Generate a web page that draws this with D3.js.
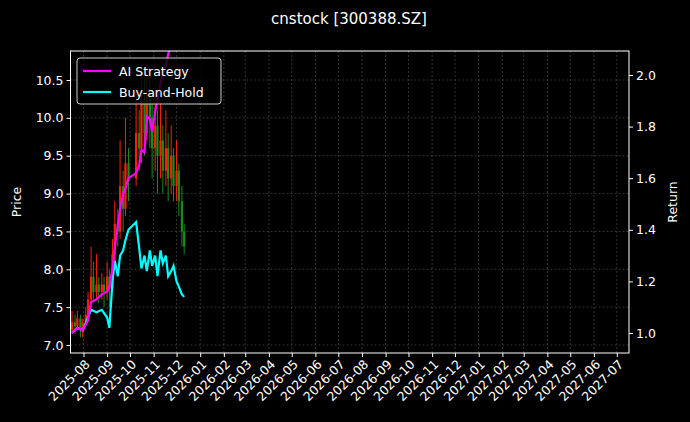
<!DOCTYPE html><html><head><meta charset="utf-8">
<script src="https://cdn.jsdelivr.net/npm/d3@7"></script>
<style>body{margin:0;background:#000}text{font-family:"DejaVu Sans",sans-serif}</style></head><body>
<svg id="c" width="690" height="422"></svg>
<script>
const title="cnstock [300388.SZ]";
const candleDates=["2025-07-17","2025-07-21","2025-07-24","2025-07-28","2025-07-31","2025-08-04","2025-08-07","2025-08-11","2025-08-14","2025-08-18","2025-08-21","2025-08-25","2025-08-28","2025-09-01","2025-09-04","2025-09-08","2025-09-11","2025-09-15","2025-09-18","2025-09-22","2025-09-25","2025-09-29","2025-10-09","2025-10-13","2025-10-16","2025-10-20","2025-10-23","2025-10-27","2025-10-30","2025-11-03","2025-11-06","2025-11-10","2025-11-13","2025-11-17","2025-11-20","2025-11-24","2025-11-27","2025-12-01","2025-12-04","2025-12-08","2025-12-11"];
const open=[7.2,7.3,7.25,7.35,7.2,7.3,7.4,7.6,7.9,7.7,7.8,7.7,7.8,7.7,7.9,7.75,8.2,8.6,8.5,9.1,8.8,9.4,9.2,9.8,9.6,10.2,9.8,10.3,10.0,9.6,9.9,9.5,9.7,9.3,9.6,9.2,9.5,9.1,9.3,8.9,8.5];
const close=[7.3,7.25,7.35,7.2,7.3,7.4,7.6,7.9,7.7,7.8,7.7,7.8,7.7,7.9,7.75,8.2,8.6,8.5,9.1,8.8,9.4,9.2,9.8,9.6,10.2,9.8,10.3,10.0,9.6,9.9,9.5,9.7,9.3,9.6,9.2,9.5,9.1,9.3,8.9,8.5,8.3];
const high=[7.45,7.4,7.45,7.4,7.35,7.5,7.7,8.3,8.1,8.2,7.9,7.95,7.9,8.1,8.0,8.4,8.9,8.8,9.7,9.3,10.0,9.6,10.4,10.1,10.7,10.6,10.7,10.6,10.2,10.4,10.1,10.2,9.9,10.1,9.8,9.9,9.6,9.7,9.4,9.1,8.6];
const low=[7.15,7.15,7.2,7.1,7.1,7.25,7.35,7.5,7.6,7.6,7.55,7.6,7.5,7.6,7.5,7.7,8.1,8.3,8.4,8.5,8.7,8.9,9.1,9.3,9.4,9.5,9.7,9.6,9.2,9.3,9.0,9.2,9.0,9.1,8.9,9.0,8.9,8.9,8.7,8.3,8.2];
const retDates=["2025-07-17","2025-07-24","2025-07-31","2025-08-07","2025-08-11","2025-08-18","2025-08-25","2025-09-01","2025-09-04","2025-09-08","2025-09-11","2025-09-15","2025-09-18","2025-09-22","2025-09-25","2025-09-29","2025-10-09","2025-10-13","2025-10-16","2025-10-20","2025-10-23","2025-10-27","2025-10-30","2025-11-03","2025-11-06","2025-11-10","2025-11-13","2025-11-17","2025-11-20","2025-11-24","2025-11-27","2025-12-01","2025-12-04","2025-12-08","2025-12-11"];
const aiStrategy=[1.0,1.02,1.01,1.05,1.12,1.13,1.15,1.16,1.18,1.25,1.33,1.42,1.48,1.54,1.56,1.6,1.62,1.65,1.71,1.70,1.84,1.83,1.78,1.86,1.9,1.97,2.0,2.04,2.08,2.12,2.14,2.15,2.16,2.17,2.18];
const buyHold=[1.0,1.02,1.01,1.06,1.09,1.08,1.09,1.06,1.02,1.2,1.28,1.22,1.3,1.32,1.36,1.4,1.43,1.33,1.25,1.3,1.24,1.32,1.26,1.3,1.22,1.32,1.27,1.30,1.22,1.24,1.26,1.2,1.18,1.15,1.14];
const priceTicks=[7.0,7.5,8.0,8.5,9.0,9.5,10.0,10.5];
const retTicks=[1.0,1.2,1.4,1.6,1.8,2.0];

const svg=d3.select("#c"),L=70.5,R=629,T=51,B=353,p=d3.timeParse("%Y-%m-%d");
const x=d3.scaleTime().domain([p("2025-07-15"),p("2027-07-17")]).range([L,R]);
const y=d3.scaleLinear().domain([7.0,10.5]).range([345,80]);
const y2=d3.scaleLinear().domain([1.0,2.0]).range([333,75]);
svg.append("rect").attr("width",690).attr("height",422).attr("fill","#000");
svg.append("defs").append("clipPath").attr("id","cp").append("rect").attr("x",L).attr("y",T).attr("width",R-L).attr("height",B-T);
const months=d3.timeMonth.range(p("2025-08-01"),p("2027-07-02"));
const g=svg.append("g").attr("stroke","#555").attr("stroke-dasharray","2,2").attr("stroke-width",0.6);
months.forEach(m=>g.append("line").attr("x1",x(m)).attr("x2",x(m)).attr("y1",T).attr("y2",B));
priceTicks.forEach(v=>g.append("line").attr("x1",L).attr("x2",R).attr("y1",y(v)).attr("y2",y(v)));
const pl=svg.append("g").attr("clip-path","url(#cp)");
candleDates.forEach((d,i)=>{const c=close[i]>=open[i]?"#ff2000":"#1a8c1a";
 pl.append("line").attr("x1",x(p(d))).attr("x2",x(p(d))).attr("y1",y(high[i])).attr("y2",y(low[i])).attr("stroke",c).attr("stroke-width",1);
 pl.append("line").attr("x1",x(p(d))).attr("x2",x(p(d))).attr("y1",y(Math.max(open[i],close[i]))).attr("y2",y(Math.min(open[i],close[i]))).attr("stroke",c).attr("stroke-width",2.2);});
const ln=(arr)=>d3.line().x((d,i)=>x(p(retDates[i]))).y(d=>y2(d))(arr);
pl.append("path").attr("d",ln(buyHold)).attr("fill","none").attr("stroke","#00ffff").attr("stroke-width",2.2);
pl.append("path").attr("d",ln(aiStrategy)).attr("fill","none").attr("stroke","#ff00ff").attr("stroke-width",2.2);
svg.append("rect").attr("x",L).attr("y",T).attr("width",R-L).attr("height",B-T).attr("fill","none").attr("stroke","#fff").attr("stroke-width",1);
const ax=svg.append("g").attr("transform",`translate(0,${B})`).call(d3.axisBottom(x).tickValues(months).tickFormat(d3.timeFormat("%Y-%m")).tickSize(4).tickSizeOuter(0));
ax.selectAll("text").attr("transform","rotate(-45)").attr("text-anchor","end").attr("dx","-0.3em").attr("dy","0.5em");
const ay=svg.append("g").attr("transform",`translate(${L},0)`).call(d3.axisLeft(y).tickValues(priceTicks).tickFormat(d3.format(".1f")).tickSize(4).tickSizeOuter(0));
const ay2=svg.append("g").attr("transform",`translate(${R},0)`).call(d3.axisRight(y2).tickValues(retTicks).tickFormat(d3.format(".1f")).tickSize(4).tickSizeOuter(0));
[ax,ay,ay2].forEach(a=>{a.select(".domain").remove();a.selectAll("line").attr("stroke","#fff");a.selectAll("text").attr("fill","#fff").attr("font-size",12.5);});
svg.append("text").attr("x",349).attr("y",24).attr("text-anchor","middle").attr("fill","#fff").attr("font-size",15).text(title);
svg.append("text").attr("transform","translate(21,202) rotate(-90)").attr("text-anchor","middle").attr("fill","#fff").attr("font-size",12.5).text("Price");
svg.append("text").attr("transform","translate(677,202) rotate(-90)").attr("text-anchor","middle").attr("fill","#fff").attr("font-size",12.5).text("Return");
const lg=svg.append("g");
lg.append("rect").attr("x",77).attr("y",58).attr("width",144).attr("height",46).attr("rx",3).attr("fill","#000").attr("fill-opacity",0.8).attr("stroke","#ccc");
[["AI Strategy","#ff00ff",71],["Buy-and-Hold","#00ffff",92]].forEach(([t,c,yy])=>{
 lg.append("line").attr("x1",83).attr("x2",111).attr("y1",yy).attr("y2",yy).attr("stroke",c).attr("stroke-width",2.2);
 lg.append("text").attr("x",119).attr("y",yy+4.5).attr("fill","#fff").attr("font-size",12.5).text(t);});
</script></body></html>
